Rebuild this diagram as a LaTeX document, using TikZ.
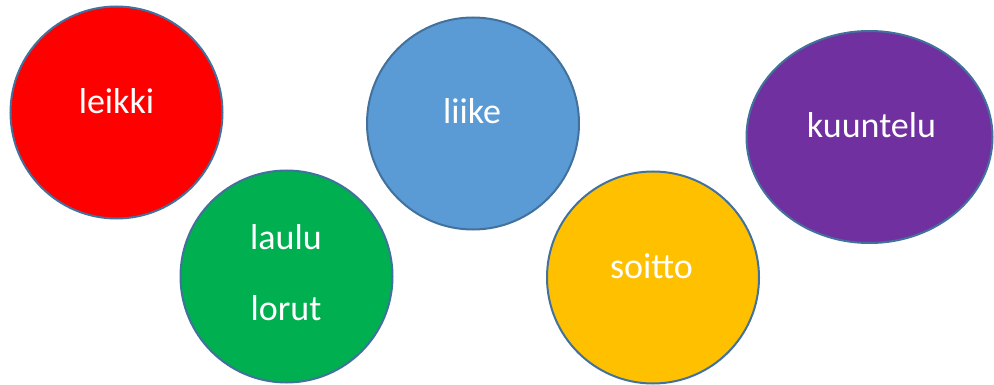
\documentclass[tikz,border=0pt]{standalone}
\usepackage{fontspec}
\setmainfont{Carlito}
\usetikzlibrary{shapes.geometric}
\definecolor{rimblue}{HTML}{41719C}
\definecolor{ballred}{HTML}{FF0000}
\definecolor{ballgreen}{HTML}{00B050}
\definecolor{ballblue}{HTML}{5B9BD5}
\definecolor{ballyellow}{HTML}{FFC000}
\definecolor{ballpurple}{HTML}{7030A0}

\begin{document}
\begin{tikzpicture}[x=1pt,y=-1pt]
	\tikzstyle{ball}=[circle,draw=rimblue,line width=2pt,minimum size=212pt,inner sep=0pt]
	\tikzstyle{word}=[text=white,anchor=base,inner sep=0pt,font=\fontsize{36}{40}\selectfont]
	\useasboundingbox (0,0) rectangle (994,385);
	\node (leikki) [ball,fill=ballred] at (116.5,112.5) {};
	\node (laulu) [ball,fill=ballgreen] at (286.5,276.5) {};
	\node (liike) [ball,fill=ballblue] at (473,123.5) {};
	\node (soitto) [ball,fill=ballyellow] at (653,277.5) {};
	\node (kuuntelu) [ellipse,draw=rimblue,line width=2pt,fill=ballpurple,minimum width=246pt,minimum height=212pt,inner sep=0pt] at (869.5,137) {};
	\node (t1) [word] at (116.5,114) {leikki};
	\node (t2) [word] at (286,249) {laulu};
	\node (t3) [word] at (286,320) {lorut};
	\node (t4) [word] at (472,124) {liike};
	\node (t5) [word] at (651.5,278) {soitto};
	\node (t6) [word] at (871.5,138) {kuuntelu};
\end{tikzpicture}
\end{document}
